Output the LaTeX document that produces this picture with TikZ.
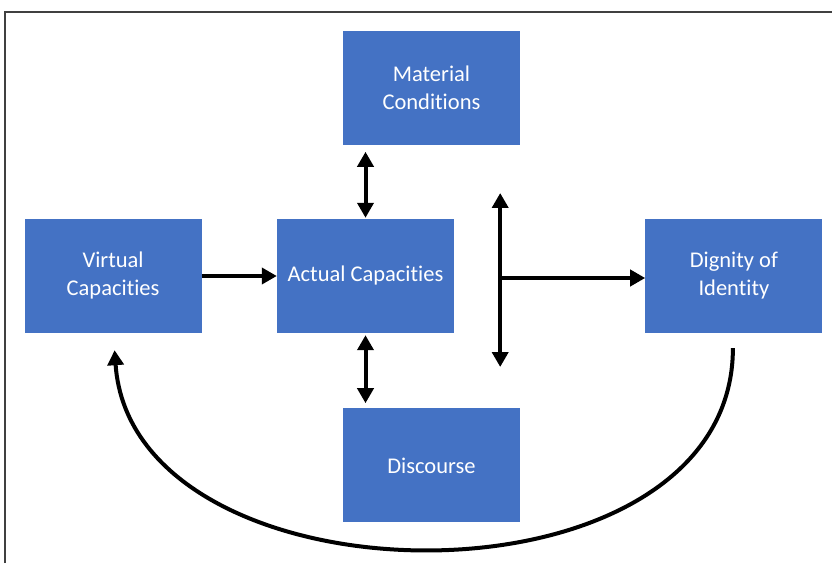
\documentclass[tikz,border=0pt]{standalone}
\usepackage{fontspec}
\setmainfont{Carlito}[Ligatures=NoCommon]
\usetikzlibrary{positioning,arrows.meta}
\definecolor{boxblue}{HTML}{4472C4}

\begin{document}
\begin{tikzpicture}[x=1pt,y=1pt,
    box/.style={rectangle,fill=boxblue,text=white,minimum width=177pt,minimum height=114pt,
                align=center,inner sep=0pt,font=\fontsize{22.5}{28}\selectfont},
    tip/.tip={Triangle[length=15pt,width=16pt]},
    link/.style={line width=4pt,-tip},
    dlink/.style={line width=4pt,tip-tip}]
  \useasboundingbox (0,0) rectangle (832,563);
  \draw[line width=2pt,black!75] (5,0) -- (5,551) -- (832,551);

  \node[box]                                 (ActualCap)    at (365.5,287) {Actual Capacities};
  \node[box,left=75pt of ActualCap]          (VirtualCap)   {Virtual\\Capacities};
  \node[box,above=74pt of ActualCap,xshift=66pt] (MaterialCond) {Material\\Conditions};
  \node[box,below=75pt of ActualCap,xshift=66pt] (Discourse)    {Discourse};
  \node[box,right=191pt of ActualCap]        (Dignity)      {Dignity of\\Identity};

  \coordinate[right=46pt of ActualCap,yshift=-2pt] (Hub);
  \coordinate[above=85pt of Hub] (HubTop);
  \coordinate[below=89pt of Hub] (HubBot);

  \draw[dlink,shorten >=7pt,shorten <=1pt] (ActualCap.north) -- (ActualCap.north |- MaterialCond.south);
  \draw[dlink,shorten >=5pt,shorten <=2pt] (ActualCap.south) -- (ActualCap.south |- Discourse.north);
  \draw[dlink] (HubTop) -- (HubBot);
  \draw[link]  (VirtualCap) -- (ActualCap);
  \draw[link]  (Hub) -- (Hub -| Dignity.west);

  \draw[link] ([xshift=-1pt,yshift=-15pt]Dignity.south) .. controls +(0,-270) and +(18,-262) .. ([xshift=1.5pt,yshift=-17pt]VirtualCap.south);
\end{tikzpicture}
\end{document}
